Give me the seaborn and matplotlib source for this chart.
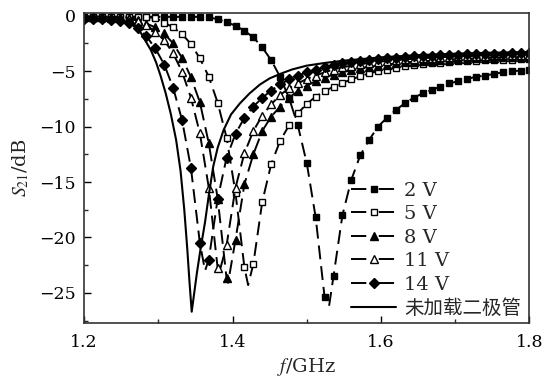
import numpy as np
import pandas as pd
import seaborn as sns
import matplotlib
matplotlib.use("Agg")
import matplotlib.pyplot as plt
from matplotlib.lines import Line2D
from matplotlib.ticker import MultipleLocator, FormatStrFormatter
from matplotlib.font_manager import FontProperties

# ---------------- data ----------------
freq = np.round(np.arange(1.2, 1.8001, 0.012), 3)  # marker grid (GHz)

s21_2v = [-0.1, -0.1, -0.1, -0.1, -0.1, -0.1, -0.1, -0.1, -0.1, -0.1,
          -0.1, -0.1, -0.1, -0.1, -0.15, -0.3, -0.57, -0.9, -1.35, -1.95,
          -2.85, -4.0, -5.5, -7.4, -9.9, -13.3, -18.2, -25.4, -23.5, -18.0,
          -14.8, -12.6, -11.2, -10.0, -9.2, -8.5, -7.9, -7.4, -7.0, -6.7,
          -6.4, -6.1, -5.9, -5.7, -5.5, -5.4, -5.25, -5.1, -5.0, -4.95, -4.9]
s21_5v = [-0.1, -0.1, -0.1, -0.1, -0.1, -0.1, -0.1, -0.12, -0.2, -0.62,
          -1.05, -1.65, -2.55, -3.85, -5.5, -7.85, -11.0, -16.0, -22.7, -22.4,
          -16.8, -13.4, -11.3, -9.9, -8.8, -7.95, -7.3, -6.8, -6.4, -6.05,
          -5.75, -5.45, -5.2, -5.0, -4.85, -4.7, -4.55, -4.45, -4.38, -4.3,
          -4.22, -4.17, -4.12, -4.08, -4.05, -4.02, -4.0, -3.97, -3.95, -3.92, -3.9]
s21_8v = [-0.12, -0.12, -0.12, -0.12, -0.14, -0.2, -0.36, -0.7, -1.05, -1.6,
          -2.5, -3.8, -5.55, -7.8, -11.5, -16.5, -23.7, -20.2, -15.2, -12.5,
          -10.4, -9.1, -8.2, -7.4, -6.8, -6.3, -5.9, -5.6, -5.3, -5.1,
          -4.9, -4.75, -4.6, -4.5, -4.4, -4.3, -4.2, -4.15, -4.1, -4.05,
          -4.0, -3.95, -3.9, -3.87, -3.84, -3.81, -3.78, -3.76, -3.74, -3.72, -3.7]
s21_11v = [-0.15, -0.15, -0.15, -0.16, -0.18, -0.25, -0.45, -0.8, -1.5, -2.2,
           -3.4, -5.05, -7.4, -10.6, -15.5, -22.8, -20.7, -15.5, -12.4, -10.4,
           -9.0, -8.0, -7.15, -6.55, -6.1, -5.7, -5.4, -5.1, -4.85, -4.65,
           -4.5, -4.37, -4.26, -4.16, -4.08, -4.0, -3.94, -3.88, -3.83, -3.78,
           -3.74, -3.7, -3.67, -3.64, -3.61, -3.59, -3.57, -3.55, -3.53, -3.51, -3.5]
s21_14v = [-0.25, -0.28, -0.32, -0.38, -0.48, -0.65, -1.1, -1.85, -2.95, -4.4,
           -6.5, -9.4, -13.75, -20.5, -22.0, -16.5, -12.8, -10.65, -9.2, -8.2,
           -7.4, -6.75, -6.2, -5.75, -5.4, -5.1, -4.85, -4.63, -4.45, -4.3,
           -4.18, -4.07, -3.98, -3.9, -3.83, -3.77, -3.72, -3.67, -3.63, -3.6,
           -3.57, -3.54, -3.51, -3.49, -3.47, -3.45, -3.43, -3.41, -3.4, -3.39, -3.38]

# resonance minima of the dashed curves (frequency, depth)
dip_f = [1.530, 1.421, 1.394, 1.382, 1.363]
dip_s = [-26.2, -24.3, -24.1, -23.2, -23.0]

# unloaded resonator (no diode), solid line
bare_f = [1.200, 1.220, 1.235, 1.245, 1.255, 1.265, 1.272, 1.277, 1.283, 1.290,
          1.297, 1.303, 1.310, 1.317, 1.324, 1.330, 1.335, 1.339, 1.342, 1.345,
          1.348, 1.352, 1.357, 1.363, 1.368, 1.374, 1.380, 1.388, 1.398, 1.410,
          1.423, 1.437, 1.450, 1.464, 1.480, 1.500, 1.525, 1.550, 1.600, 1.650,
          1.700, 1.750, 1.800]
bare_s = [-0.05, -0.08, -0.15, -0.25, -0.5, -0.8, -1.15, -1.6, -2.3, -3.1,
          -4.2, -5.4, -7.0, -8.9, -11.2, -14.0, -17.5, -21.0, -24.0, -26.7,
          -25.2, -23.2, -21.0, -18.6, -16.2, -13.6, -11.9, -10.3, -8.9, -7.9,
          -7.0, -6.2, -5.65, -5.25, -4.85, -4.5, -4.25, -4.05, -3.75, -3.55,
          -3.42, -3.33, -3.27]

labels = ["2 V", "5 V", "8 V", "11 V", "14 V", "未加载二极管"]
xticks = [1.2, 1.4, 1.6, 1.8]
yticks = [0, -5, -10, -15, -20, -25]

# ---------------- style ----------------
sns.set_style("ticks")
plt.rcParams["font.family"] = ["DejaVu Serif", "Noto Sans CJK SC"]
plt.rcParams["mathtext.fontset"] = "stix"
plt.rcParams["lines.scale_dashes"] = False
plt.rcParams["xtick.direction"] = "in"
plt.rcParams["ytick.direction"] = "in"

fig = plt.figure(figsize=(5.53, 3.82), dpi=100)
ax = fig.add_axes([0.152, 0.155, 0.8055, 0.811])

series = [s21_2v, s21_5v, s21_8v, s21_11v, s21_14v]
markers = ["s", "s", "^", "^", "D"]
faces = ["black", "white", "black", "white", "black"]
msizes = [5, 5, 6, 6, 5]
dash = (0, (10, 5))

for vals, df_, ds_, mk, fc, ms in zip(series, dip_f, dip_s, markers, faces, msizes):
    idx = int(np.searchsorted(freq, df_))
    fl = np.insert(freq, idx, df_)
    sl = np.insert(np.array(vals, dtype=float), idx, ds_)
    mev = [i for i in range(len(fl)) if i != idx]
    d = pd.DataFrame({"f": fl, "s": sl})
    sns.lineplot(data=d, x="f", y="s", ax=ax, estimator=None, sort=False,
                 color="black", linewidth=1.4, linestyle=dash,
                 marker=mk, markersize=ms, markerfacecolor=fc,
                 markeredgecolor="black", markeredgewidth=1.0, markevery=mev)

sns.lineplot(x=bare_f, y=bare_s, ax=ax, estimator=None, sort=False,
             color="black", linewidth=1.5)

ax.set_xlim(1.2, 1.8)
ax.set_ylim(-27.7, 0.25)
ax.set_xticks(xticks)
ax.set_yticks(yticks)
ax.xaxis.set_minor_locator(MultipleLocator(0.1))
ax.yaxis.set_minor_locator(MultipleLocator(2.5))
ax.xaxis.set_major_formatter(FormatStrFormatter("%.1f"))
ax.tick_params(which="major", length=5, width=1.0, labelsize=12.5, colors="black")
ax.tick_params(axis="x", which="major", pad=8)
ax.tick_params(axis="y", which="major", pad=6)
ax.tick_params(which="minor", length=3, width=1.0)
ax.tick_params(top=False, right=False, which="both")
for sp in ax.spines.values():
    sp.set_visible(True)
    sp.set_linewidth(1.2)
    sp.set_color("#333333")

ax.set_xlabel("$f$/GHz", fontsize=14, labelpad=4)
ax.set_ylabel("$S_{21}$/dB", fontsize=14, labelpad=6)

handles = []
for mk, fc, ms in zip(markers, faces, msizes):
    handles.append(Line2D([], [], color="black", linewidth=1.4,
                          linestyle=(0, (11, 9)), marker=mk, markersize=ms,
                          markerfacecolor=fc, markeredgecolor="black",
                          markeredgewidth=1.0))
handles.append(Line2D([], [], color="black", linewidth=1.5))
leg = ax.legend(handles, labels, loc="upper left", bbox_to_anchor=(0.6, 0.455),
                frameon=False, handlelength=2.3, handletextpad=0.4,
                labelspacing=0.28, borderpad=0, borderaxespad=0, numpoints=1,
                prop=FontProperties(family=["DejaVu Serif", "Noto Sans CJK SC"], size=14))

fig.savefig("out.png", dpi=100)
